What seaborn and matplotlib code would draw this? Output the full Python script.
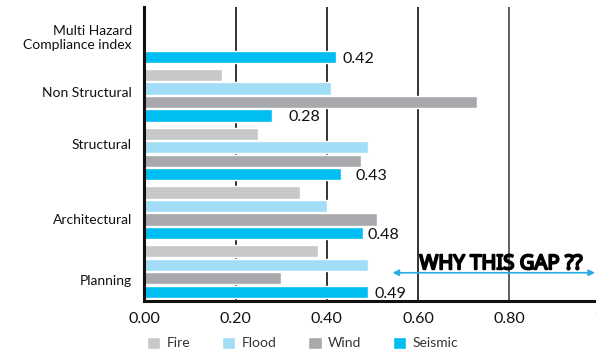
import matplotlib
matplotlib.use("Agg")
import matplotlib.pyplot as plt
import matplotlib.patheffects as pe
import matplotlib.transforms as mtransforms
import seaborn as sns
import pandas as pd

# Compliance scores by category and hazard
categories = ["Multi Hazard\nCompliance index", "Non Structural", "Structural",
              "Architectural", "Planning"]
hazards = ["Fire", "Flood", "Wind", "Seismic"]
fire = [None, 0.17, 0.25, 0.34, 0.38]
flood = [None, 0.41, 0.49, 0.40, 0.49]
wind = [None, 0.73, 0.475, 0.51, 0.30]
seismic = [0.42, 0.28, 0.43, 0.48, 0.49]
x_ticks = [0.0, 0.2, 0.4, 0.6, 0.8, 1.0]
x_tick_labels = ["0.00", "0.20", "0.40", "0.60", "0.80", "1.00"]
gap_note = "WHY THIS GAP ??"

palette = {"Fire": "#C7C8CA", "Flood": "#A1DDF6", "Wind": "#A7A9AC", "Seismic": "#00BDF2"}

rows = []
for series_name, series in zip(hazards, [fire, flood, wind, seismic]):
    for cat, val in zip(categories, series):
        if val is not None:
            rows.append({"category": cat, "hazard": series_name, "score": val})
df = pd.DataFrame(rows)

sns.set_theme(style="white")
plt.rcParams["font.family"] = ["Lato", "DejaVu Sans"]

fig = plt.figure(figsize=(5.96, 3.51), dpi=100)
ax = fig.add_axes([0.2424, 0.1425, 0.7651, 0.8376])

sns.barplot(data=df, y="category", x="score", hue="hazard", order=categories,
            hue_order=hazards, palette=palette, orient="h", width=0.92, gap=0.1,
            saturation=1, errorbar=None, ax=ax, legend=True, zorder=2)

ax.set_xlim(0, 1.0)
ax.set_ylim(len(categories) - 0.5, -0.5)
ax.set_xlabel("")
ax.set_ylabel("")

# vertical reference lines behind the bars
for xv in x_ticks[1:-1]:
    ax.axvline(xv, color="#444444" if xv > 0.7 else "#111111", lw=1.2, zorder=1)

ax.set_xticks(x_ticks)
ax.set_xticklabels(x_tick_labels, fontsize=11.5, color="#111111")
ax.get_xticklabels()[-1].set_fontsize(4.5)
ax.get_xticklabels()[-1].set_color("#555555")
ax.tick_params(axis="x", length=0, pad=8)
ax.tick_params(axis="y", length=0, pad=9, labelsize=10, labelcolor="#111111")

# nudge category labels vertically (pixels, positive = down)
label_dy = [0, -3, -10, 6, 8]
for lbl, dy in zip(ax.get_yticklabels(), label_dy):
    lbl.set_transform(lbl.get_transform() +
                      mtransforms.ScaledTranslation(0, -dy / 100, fig.dpi_scale_trans))

for side in ["top", "right"]:
    ax.spines[side].set_visible(False)
for side in ["left", "bottom"]:
    ax.spines[side].set_color("#111111")
    ax.spines[side].set_linewidth(2.2)
ax.spines["bottom"].set_zorder(3)
ax.spines["left"].set_zorder(3)

# value labels on the seismic bars
label_dx = [7, 16, 15, 4, 7]
for i, (val, dx) in enumerate(zip(seismic, label_dx)):
    ypos = i + 1.5 * 0.23 * 0.95
    ax.annotate(f"{val:.2f}", xy=(val, ypos), xytext=(dx, -3),
                textcoords="offset pixels", ha="left", va="center",
                fontsize=11.5, color="#111111")

# gap annotation
ax.annotate("", xy=(0.988, 4.02), xytext=(0.544, 4.02),
            arrowprops=dict(arrowstyle="<|-|>", color="#29ABE2", lw=1.2,
                            mutation_scale=9, shrinkA=0, shrinkB=0),
            annotation_clip=False, zorder=4)
ax.text(0.603, 3.96, gap_note, ha="left", va="baseline",
        fontsize=14.6, family=["Noto Sans", "DejaVu Sans"],
        color="#000000", zorder=5,
        path_effects=[pe.withStroke(linewidth=1.4, foreground="#000000")])

handles, labels = ax.get_legend_handles_labels()
ax.legend_.remove()
fig.legend(handles, labels, loc="center", bbox_to_anchor=(0.508, 0.023), ncol=4,
           frameon=False, fontsize=10, handlelength=0.95, handleheight=0.95,
           handletextpad=0.45, columnspacing=2.3, labelcolor="#333333")

fig.savefig("out.png", dpi=100)
